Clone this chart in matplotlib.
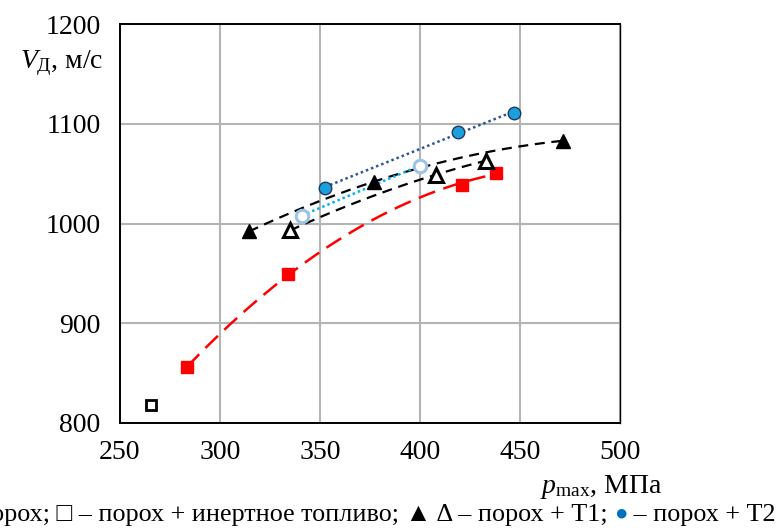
import numpy as np
import matplotlib
matplotlib.use("Agg")
import matplotlib.pyplot as plt

plt.rcParams['font.family'] = ['Liberation Serif', 'DejaVu Serif']
plt.rcParams['mathtext.fontset'] = 'custom'
plt.rcParams['mathtext.rm'] = 'Liberation Serif'
plt.rcParams['mathtext.it'] = 'Liberation Serif:italic'

# данные (p_max, МПа ; V_Д, м/с)
p_poroh = [283.5, 334, 421, 438]
v_poroh = [856, 949, 1039, 1051]
p_inert = [265.5]
v_inert = [818]
p_t1_full = [314.5, 377, 471.5]
v_t1_full = [992, 1042, 1083]
p_t1_open = [335, 408, 433]
v_t1_open = [993, 1049, 1063]
p_t2_full = [352.5, 419, 447]
v_t2_full = [1036, 1092, 1111]
p_t2_open = [341, 400]
v_t2_open = [1008, 1058]

xticks = [250, 300, 350, 400, 450, 500]
yticks = [800, 900, 1000, 1100, 1200]

W, H = 778, 528
FS = 20
fig = plt.figure(figsize=(W / 100, H / 100), dpi=100)
ax = fig.add_axes([120 / W, (H - 423) / H, 500 / W, 399 / H])

def trend(px, py, deg, **kw):
    c = np.polyfit(px, py, deg)
    xs = np.linspace(min(px), max(px), 200)
    ax.plot(xs, np.polyval(c, xs), zorder=2, **kw)

# линии тренда
trend(p_poroh, v_poroh, 2, color='#ff0000', lw=1.8, dashes=(7, 3.5))
trend(p_t1_full, v_t1_full, 2, color='black', lw=1.6, dashes=(4.5, 3))
trend(p_t1_open, v_t1_open, 2, color='black', lw=1.6, dashes=(4.5, 3))
trend(p_t2_full, v_t2_full, 1, color='#2f5597', lw=1.8, dashes=(1, 1.2))
trend(p_t2_open, v_t2_open, 1, color='#00b0f0', lw=1.8, dashes=(1, 1.2))

# маркеры
ax.plot(p_poroh, v_poroh, 's', color='#ff0000', ms=8, mec='#ff0000', zorder=3)
ax.plot(p_inert, v_inert, 's', mfc='white', mec='black', mew=2, ms=6.5, zorder=3)
ax.plot(p_t1_full, v_t1_full, '^', color='black', ms=10, zorder=3)
ax.plot(p_t1_open, v_t1_open, '^', mfc='white', mec='black', mew=2.2, ms=9.5, zorder=3)
ax.plot(p_t2_full, v_t2_full, 'o', mfc='#1ca0dc', mec='#1f3864', mew=1, ms=9, zorder=3)
ax.plot(p_t2_open, v_t2_open, 'o', mfc='white', mec='#9dc3e6', mew=2.2, ms=9, zorder=3)

ax.set_xlim(250, 500)
ax.set_ylim(800, 1200)
ax.set_xticks(xticks)
ax.set_yticks(yticks)
ax.grid(True, color='#b4b4b4', lw=1.5)
ax.set_axisbelow(True)
ax.tick_params(length=0, labelsize=FS, pad=14)
ax.tick_params(axis='x', pad=12)
for s in ['left', 'bottom', 'top', 'right']:
    ax.spines[s].set_color('black')
    ax.spines[s].set_linewidth(1.4)
ax.spines['right'].set_linewidth(1.0)

# подписи осей
fig.text(20 / W, 1 - 68 / H, r'$V_\mathrm{Д}$, м/с', fontsize=FS, va='baseline')
fig.text(540 / W, 1 - 493 / H, r'$p_\mathrm{max}$, МПа', fontsize=FS, va='baseline')

# подпись снизу с синим маркером
FC = 18.8
yb = 1 - 521 / H
t3 = fig.text(776 / W, yb, ' – порох + Т2', fontsize=FC, ha='right', va='baseline')
fig.canvas.draw()
r = fig.canvas.get_renderer()
x3 = t3.get_window_extent(r).x0
t2 = fig.text(x3 / W, yb + 1 / H, '●', fontsize=16, color='#0070c0', ha='right', va='baseline')
fig.canvas.draw()
x2 = t2.get_window_extent(r).x0
fig.text(x2 / W, yb, 'порох; □ – порох + инертное топливо; ▲ Δ – порох + Т1; ',
         fontsize=FC, ha='right', va='baseline')

fig.savefig('out.png', dpi=100)
